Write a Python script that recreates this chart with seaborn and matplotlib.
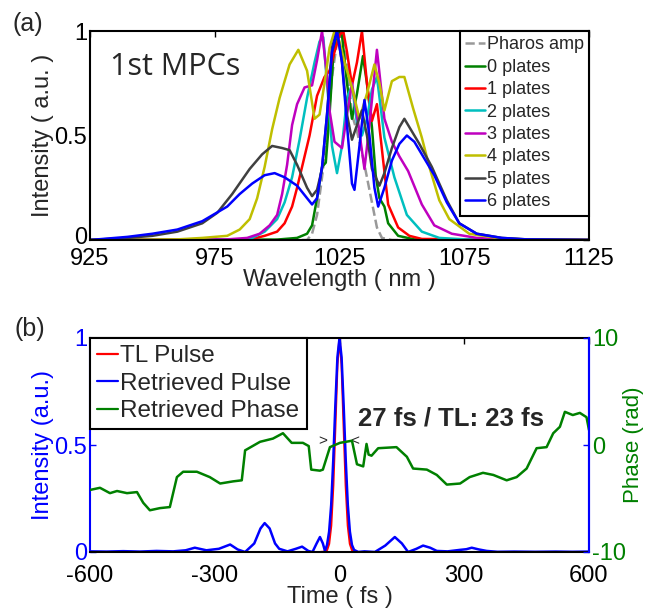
import numpy as np
import pandas as pd
import matplotlib
matplotlib.use("Agg")
import matplotlib.pyplot as plt
import matplotlib.transforms as mtransforms
import seaborn as sns
from matplotlib.lines import Line2D

sns.set_theme(style="white")
plt.rcParams['font.family'] = ['Liberation Sans', 'DejaVu Sans']

# ---------------- Panel (a): spectra ----------------
pharos_wl = [925, 1010, 1012, 1014, 1016, 1018, 1020, 1022, 1024, 1026, 1028, 1030, 1032, 1034, 1036, 1038, 1040, 1042, 1046, 1125]
pharos_i = [0, 0, 0.0, 0.03, 0.12, 0.3, 0.5, 0.78, 0.95, 1.0, 0.85, 0.6, 0.52, 0.42, 0.3, 0.18, 0.06, 0.01, 0, 0]

p0_wl = [925, 1000, 1008, 1012, 1014, 1016, 1018, 1019.5, 1021, 1022.5, 1024, 1026, 1028, 1030, 1032, 1034.4, 1036, 1038, 1039.5, 1041, 1043, 1044.5, 1048.5, 1055, 1125]
p0_i = [0, 0.002, 0.01, 0.03, 0.07, 0.2, 0.35, 0.37, 0.6, 0.88, 1.0, 0.98, 0.75, 0.58, 0.7, 0.88, 0.75, 0.54, 0.31, 0.2, 0.16, 0.08, 0.02, 0.003, 0]

p1_wl = [925, 985, 990, 995, 1000, 1003, 1006, 1008, 1011, 1013, 1016, 1019, 1021, 1023, 1025, 1026.5, 1028, 1030, 1032, 1034, 1036, 1038, 1040, 1042.5, 1044.5, 1048.5, 1053, 1058, 1125]
p1_i = [0, 0.002, 0.005, 0.02, 0.04, 0.08, 0.16, 0.25, 0.4, 0.5, 0.69, 0.78, 0.81, 0.9, 0.98, 1.0, 0.9, 0.74, 0.85, 1.0, 0.75, 0.57, 0.65, 0.38, 0.17, 0.06, 0.02, 0.005, 0]

p2_wl = [925, 985, 990, 995, 1000, 1003, 1006, 1009, 1012, 1015, 1017, 1018.5, 1020, 1022, 1024, 1026, 1028, 1030, 1032, 1034, 1036, 1038, 1040, 1043, 1047, 1052, 1058, 1065, 1075, 1125]
p2_i = [0, 0.003, 0.01, 0.04, 0.1, 0.18, 0.3, 0.48, 0.68, 0.85, 0.95, 0.97, 0.75, 0.45, 0.32, 0.45, 0.68, 0.74, 0.56, 0.5, 0.58, 0.72, 0.78, 0.49, 0.3, 0.12, 0.04, 0.01, 0.003, 0]

p3_wl = [925, 980, 988, 993, 997, 1000, 1002, 1004, 1006, 1008, 1011, 1014, 1016, 1018, 1020, 1021, 1023, 1026, 1028, 1030, 1032, 1035, 1037, 1040, 1043, 1046, 1049, 1052.5, 1058, 1063, 1070, 1080, 1090, 1125]
p3_i = [0, 0.003, 0.01, 0.03, 0.07, 0.12, 0.22, 0.36, 0.55, 0.65, 0.73, 0.74, 0.86, 1.0, 0.78, 0.62, 0.47, 0.44, 0.6, 0.75, 0.6, 0.34, 0.55, 0.91, 0.58, 0.47, 0.4, 0.33, 0.17, 0.07, 0.03, 0.01, 0.003, 0]

p4_wl = [925, 960, 970, 980, 985, 989, 992, 995, 998, 1001, 1005, 1008.5, 1012, 1015, 1017, 1019, 1021, 1023, 1025, 1027, 1030, 1033, 1036, 1039, 1041, 1043, 1046, 1049, 1051, 1054.5, 1058, 1061, 1065, 1069, 1077, 1088, 1100, 1125]
p4_i = [0, 0.003, 0.01, 0.02, 0.05, 0.1, 0.2, 0.35, 0.53, 0.68, 0.84, 0.91, 0.81, 0.58, 0.6, 0.75, 0.92, 1.0, 0.95, 0.85, 0.73, 0.58, 0.7, 0.84, 0.75, 0.62, 0.76, 0.78, 0.78, 0.63, 0.49, 0.35, 0.19, 0.1, 0.03, 0.01, 0.002, 0]

p5_wl = [925, 940, 950, 960, 970, 976, 982, 989, 994, 998, 1002, 1005, 1008, 1012, 1014, 1016, 1018, 1020, 1022, 1024, 1026, 1028, 1030, 1032, 1034, 1036, 1038, 1041, 1043, 1046, 1049, 1051, 1054, 1057, 1062, 1068, 1073, 1080, 1090, 1100, 1125]
p5_i = [0, 0.01, 0.02, 0.04, 0.08, 0.13, 0.22, 0.34, 0.41, 0.45, 0.44, 0.43, 0.36, 0.25, 0.21, 0.24, 0.34, 0.6, 0.92, 1.0, 0.85, 0.6, 0.48, 0.55, 0.62, 0.5, 0.34, 0.26, 0.32, 0.44, 0.54, 0.58, 0.52, 0.46, 0.35, 0.19, 0.08, 0.03, 0.01, 0.003, 0]

p6_wl = [925, 940, 950, 960, 970, 980, 985, 990, 995, 999, 1003, 1008, 1012, 1014, 1016, 1018, 1020, 1022, 1024, 1026, 1028, 1030, 1031, 1033, 1035, 1037, 1039, 1040.5, 1043, 1046, 1049, 1052, 1055, 1058, 1063, 1068, 1073, 1080, 1090, 1100, 1125]
p6_i = [0, 0.015, 0.03, 0.05, 0.09, 0.16, 0.22, 0.27, 0.31, 0.32, 0.3, 0.26, 0.2, 0.17, 0.2, 0.35, 0.6, 0.9, 1.0, 0.85, 0.55, 0.27, 0.24, 0.45, 0.67, 0.5, 0.25, 0.16, 0.25, 0.38, 0.46, 0.5, 0.47, 0.41, 0.31, 0.18, 0.08, 0.03, 0.01, 0.003, 0]

spec_labels = ["Pharos amp", "0 plates", "1 plates", "2 plates", "3 plates", "4 plates", "5 plates", "6 plates"]
spec_wls = [pharos_wl, p0_wl, p1_wl, p2_wl, p3_wl, p4_wl, p5_wl, p6_wl]
spec_ints = [pharos_i, p0_i, p1_i, p2_i, p3_i, p4_i, p5_i, p6_i]
spec_colors = ["#999999", "#008000", "#ff0000", "#00bfbf", "#bf00bf", "#bfbf00", "#404040", "#0000ff"]

wl_ticks = [925, 975, 1025, 1075, 1125]

# ---------------- Panel (b): pulse ----------------
ret_t = [-600, -560, -520, -480, -440, -400, -370, -348, -320, -290, -263, -245, -227, -205, -190, -180, -168, -155, -145, -125, -105, -90, -75, -65, -55, -47, -40, -35, -30, -25, -20, -15, -10, -5, 0, 5, 10, 15, 20, 25, 30, 35, 45, 60, 85, 110, 133, 150, 165, 185, 201, 218, 234, 260, 290, 305, 318, 335, 354, 380, 420, 470, 520, 560, 600]
ret_i = [0.003, 0.002, 0.004, 0.002, 0.005, 0.003, 0.008, 0.02, 0.008, 0.015, 0.035, 0.012, 0.0, 0.04, 0.11, 0.135, 0.11, 0.04, 0.015, 0.003, 0.015, 0.025, 0.005, 0.0, 0.04, 0.07, 0.04, 0.005, 0.033, 0.095, 0.22, 0.43, 0.685, 0.91, 1.0, 0.91, 0.685, 0.43, 0.22, 0.095, 0.033, 0.01, 0.0, 0.003, 0.0, 0.03, 0.07, 0.04, 0.0, 0.015, 0.03, 0.02, 0.005, 0.003, 0.01, 0.013, 0.02, 0.012, 0.005, 0.001, 0.002, 0.001, 0.002, 0.001, 0.002]

tl_t = [-45, -40, -35, -30, -25, -20, -15, -10, -5, 0, 5, 10, 15, 20, 25, 30, 35, 40, 45]
tl_i = [0, 0.0005, 0.002, 0.009, 0.038, 0.123, 0.31, 0.59, 0.877, 1.0, 0.877, 0.59, 0.31, 0.123, 0.038, 0.009, 0.002, 0.0005, 0]

ph_t = [-600, -576, -552, -535, -511, -487, -472, -456, -432, -408, -391, -376, -343, -312, -287, -256, -235, -227, -191, -160, -136, -115, -88, -74, -68, -47, -40, -23, 1, 30, 42, 57, 65, 70, 77, 93, 137, 162, 177, 210, 234, 258, 290, 313, 345, 370, 402, 426, 450, 474, 498, 514, 530, 542, 561, 578, 594, 600]
ph_rad = [-4.2, -4.0, -4.5, -4.3, -4.5, -4.4, -5.4, -6.1, -5.9, -5.8, -3.0, -2.5, -2.5, -3.0, -3.6, -3.4, -3.3, -0.5, 0.3, 0.6, 1.1, 0.2, 0.2, -0.1, -2.3, -2.4, -2.3, -0.2, 0.2, 0.4, -1.8, -2.0, 0.1, -0.9, -1.0, -0.3, -0.2, -1.1, -2.2, -2.3, -2.8, -3.7, -3.6, -3.0, -2.6, -2.8, -3.3, -3.0, -2.2, -0.3, -0.2, 1.1, 1.7, 3.1, 2.8, 3.0, 2.6, 1.4]

t_ticks = [-600, -300, 0, 300, 600]

# ---------------- Figure ----------------
fig = plt.figure(figsize=(6.48, 6.09), dpi=100)
ax_a = fig.add_axes([90/648, 1-240/609, 499/648, 209/609])
ax_b = fig.add_axes([90/648, 1-552/609, 499/648, 214/609])

TICK_FS = 17

# Panel (a)
handles_a = []
for lab, wl, iv, col in zip(spec_labels, spec_wls, spec_ints, spec_colors):
    df = pd.DataFrame({"wl": wl, "I": iv})
    ls = "--" if lab == "Pharos amp" else "-"
    sns.lineplot(data=df, x="wl", y="I", ax=ax_a, color=col, lw=1.8,
                 linestyle=ls, estimator=None, sort=False, legend=False)
    handles_a.append(Line2D([0], [0], color=col, lw=1.8, linestyle=ls, label=lab))

ax_a.set_xlim(925, 1125)
ax_a.set_ylim(0, 1)
ax_a.set_xticks(wl_ticks)
ax_a.set_xticklabels([str(v) for v in wl_ticks])
ax_a.set_yticks([0, 0.5, 1])
ax_a.set_yticklabels(["0", "0.5", "1"])
ax_a.tick_params(direction="in", top=True, right=True, length=4, width=1,
                 labelsize=TICK_FS, pad=2, colors="black")
ax_a.tick_params(axis="x", pad=6)
ax_a.set_xlabel("Wavelength ( nm )", fontsize=TICK_FS, labelpad=-1)
ax_a.set_ylabel("Intensity ( a.u. )", fontsize=TICK_FS, labelpad=0)
for s in ax_a.spines.values():
    s.set_color("black")
    s.set_linewidth(1.5)
# nudge the lowest y tick label up a little so it clears the first x label
_lbl0 = ax_a.get_yticklabels()[0]
_lbl0.set_transform(_lbl0.get_transform() +
                    mtransforms.ScaledTranslation(0, 5/100, fig.dpi_scale_trans))
leg_a = ax_a.legend(handles=handles_a, loc="upper right", borderaxespad=0,
                    fontsize=13, labelspacing=0.3, handlelength=1.1,
                    handletextpad=0.1, borderpad=0.3, fancybox=False,
                    framealpha=1, edgecolor="black")
leg_a.get_frame().set_linewidth(1.5)
ax_a.text(933, 0.83, "1st MPCs", fontsize=22, family=["Open Sans", "DejaVu Sans"],
          va="center", ha="left")
fig.text(12/648, 1-24/609, "(a)", fontsize=18, va="center", ha="left")

# Panel (b)
BLUE = "#0000ff"
GREEN = "#008000"
sns.lineplot(x=tl_t, y=tl_i, ax=ax_b, color="#ff0000", lw=1.6, estimator=None, sort=False)
sns.lineplot(x=ret_t, y=ret_i, ax=ax_b, color=BLUE, lw=1.8, estimator=None, sort=False)
ax_b.set_xlim(-600, 600)
ax_b.set_ylim(0, 1)
ax_b.set_xticks(t_ticks)
ax_b.set_xticklabels([str(v) for v in t_ticks])
ax_b.set_yticks([0, 0.5, 1])
ax_b.set_yticklabels(["0", "0.5", "1"])
ax_b.tick_params(axis="x", direction="in", top=True, length=4, width=1,
                 labelsize=TICK_FS, pad=9, colors="black")
ax_b.tick_params(axis="y", direction="in", length=4, width=1,
                 labelsize=TICK_FS, pad=2, colors=BLUE)
ax_b.set_xlabel("Time ( fs )", fontsize=TICK_FS, labelpad=0)
ax_b.set_ylabel("Intensity (a.u.)", fontsize=TICK_FS, color=BLUE, labelpad=0)
for k, s in ax_b.spines.items():
    s.set_linewidth(1.5)
    s.set_color(BLUE if k in ("left", "right") else "black")

ax_b2 = ax_b.twinx()
sns.lineplot(x=ph_t, y=ph_rad, ax=ax_b2, color=GREEN, lw=1.8, estimator=None, sort=False)
ax_b2.set_ylim(-10, 10)
ax_b2.set_yticks([-10, 0, 10])
ax_b2.set_yticklabels(["-10", "0", "10"])
ax_b2.tick_params(axis="y", direction="in", length=4, width=1, labelsize=TICK_FS,
                  pad=2, color=BLUE, labelcolor=GREEN)
ax_b2.set_ylabel("Phase (rad)", fontsize=16, color=GREEN, labelpad=-2)
for k, s in ax_b2.spines.items():
    if k == "right":
        s.set_color(BLUE)
        s.set_linewidth(1.5)
    else:
        s.set_visible(False)
ax_b2.grid(False)

handles_b = [Line2D([0], [0], color="#ff0000", lw=1.6, label="TL Pulse"),
             Line2D([0], [0], color=BLUE, lw=1.6, label="Retrieved Pulse"),
             Line2D([0], [0], color=GREEN, lw=1.6, label="Retrieved Phase")]
leg_b = ax_b2.legend(handles=handles_b, loc="upper left", borderaxespad=0,
                     fontsize=17.5, labelspacing=0.22, handlelength=0.85,
                     handletextpad=0.1, borderpad=0.3, fancybox=False,
                     framealpha=1, edgecolor="black")
leg_b.get_frame().set_linewidth(1.5)

ax_b.text(-40, 0.52, ">", fontsize=11, ha="center", va="center")
ax_b.text(37, 0.52, "<", fontsize=11, ha="center", va="center")
ax_b.text(44, 0.626, "27 fs / TL: 23 fs", fontsize=18.5, fontweight="bold",
          ha="left", va="center")
fig.text(15/648, 1-329/609, "(b)", fontsize=18, va="center", ha="left")

fig.savefig("out.png", dpi=100)
